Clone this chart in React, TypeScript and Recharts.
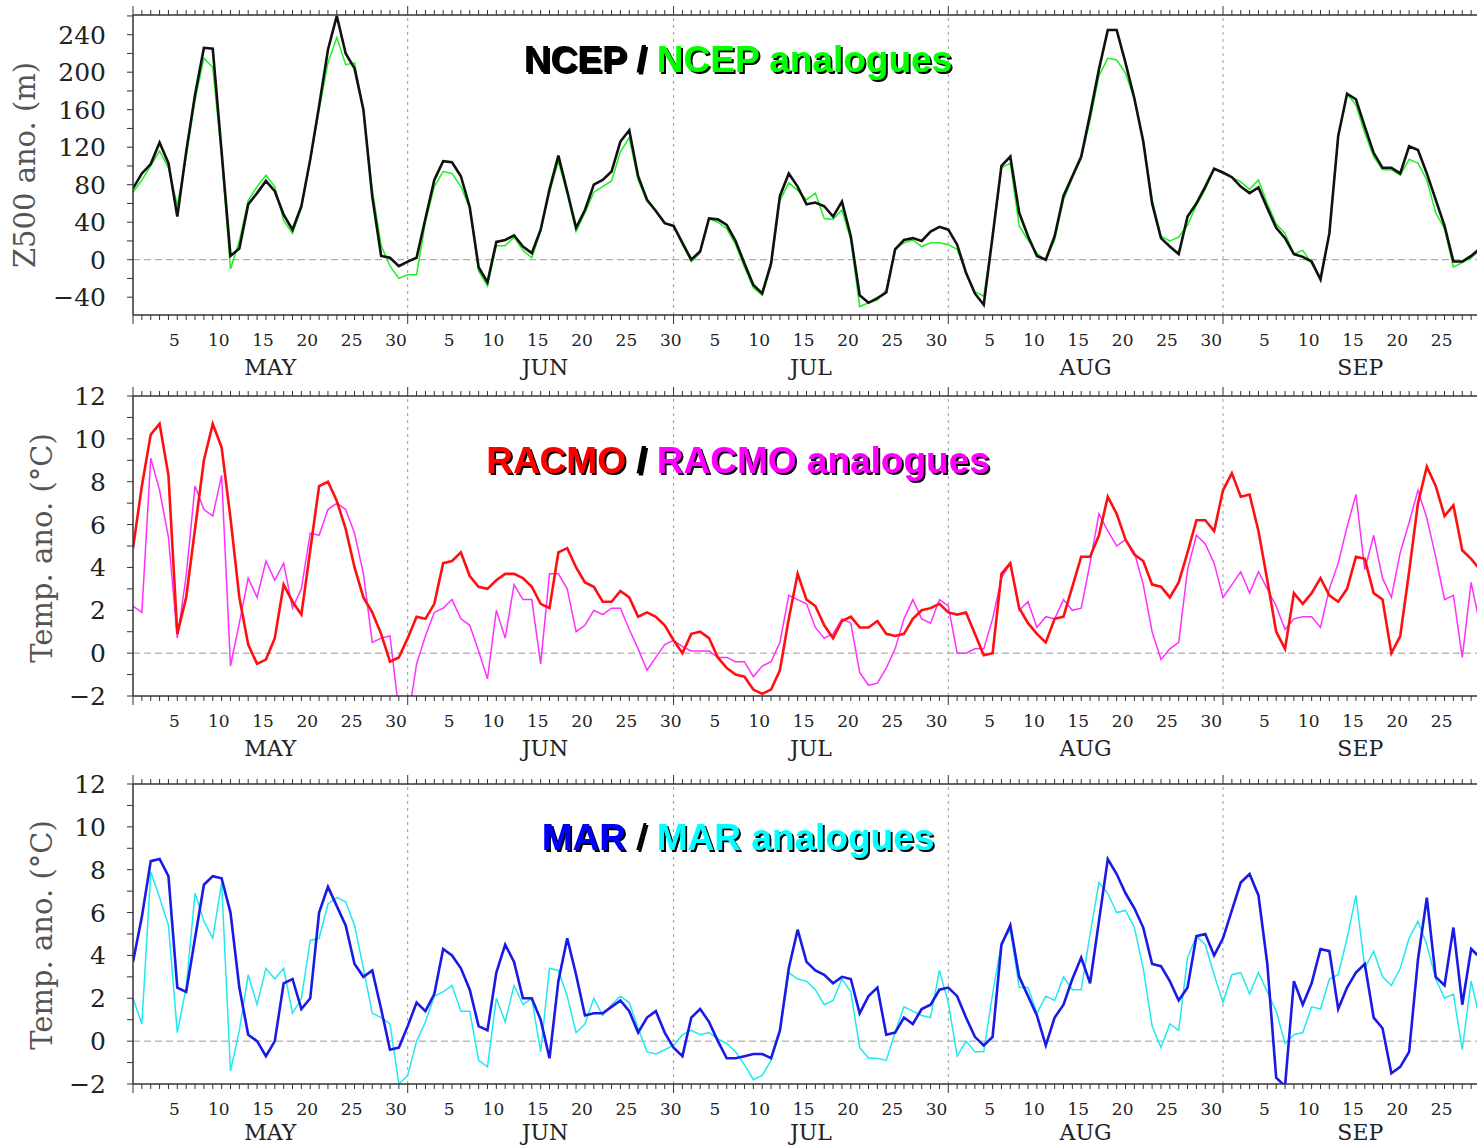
import React from 'react';
import { LineChart, Line, XAxis, YAxis, ReferenceLine } from 'recharts';

const MONTHS = ['MAY', 'JUN', 'JUL', 'AUG', 'SEP'];
const MONTH_START = [0, 31, 61, 92, 123];
const MONTH_BOUNDS = [31, 61, 92, 123];

const NCEP = [
  76, 92, 102, 125, 103, 46, 115, 176, 226, 225, 115, 4, 12, 59, 71, 84, 73, 48, 32, 57, 107, 164, 224, 260, 220, 204, 160, 67, 4, 2, -7,
  -2, 2, 44, 85, 105, 104, 89, 56, -8, -24, 19, 21, 26, 14, 7, 32, 75, 111, 73, 34, 53, 80, 85, 94, 126, 138, 89, 64, 52, 39,
  36, 18, 0, 9, 44, 43, 37, 20, -4, -27, -36, -4, 68, 92, 78, 59, 61, 57, 46, 62, 25, -38, -46, -41, -35, 11, 21, 23, 20, 30, 35,
  32, 16, -14, -36, -48, 25, 100, 110, 50, 25, 4, 0, 25, 68, 89, 110, 155, 203, 245, 245, 210, 172, 126, 60, 23, 14, 6, 46, 60, 78, 97,
  93, 88, 78, 71, 77, 55, 34, 23, 6, 3, -2, -21, 28, 132, 177, 171, 142, 114, 98, 98, 92, 121, 117, 92, 64, 36, -2, -2, 4, 12,
];
const NCEP_ANA = [
  72, 85, 100, 116, 98, 58, 110, 170, 215, 205, 110, -10, 20, 63, 78, 90, 78, 42, 28, 55, 105, 160, 210, 237, 208, 210, 160, 75, 15, -7, -20,
  -16, -16, 40, 78, 94, 92, 78, 55, -12, -28, 15, 15, 24, 10, 2, 30, 72, 105, 70, 30, 50, 72, 78, 84, 115, 130, 85, 62, 52, 39,
  36, 16, -2, 7, 44, 40, 33, 16, -8, -30, -38, -7, 63, 82, 74, 64, 71, 44, 43, 53, 21, -50, -46, -43, -32, 12, 18, 21, 14, 18, 18,
  16, 11, -14, -34, -39, 25, 98, 103, 36, 21, 7, -1, 21, 64, 87, 108, 149, 196, 215, 213, 199, 171, 128, 64, 25, 20, 24, 37, 58, 75, 97,
  92, 88, 83, 75, 85, 60, 38, 28, 6, 10, -4, -20, 28, 132, 177, 165, 135, 110, 96, 96, 90, 107, 103, 85, 50, 33, -8, -3, 2, 10,
];
const RACMO = [
  4.9, 7.8, 10.2, 10.7, 8.3, 0.9, 2.6, 5.8, 9.0, 10.7, 9.6, 6.3, 2.6, 0.4, -0.5, -0.3, 0.7, 3.2, 2.4, 1.8, 4.8, 7.8, 8.0, 7.1, 5.8, 4.0, 2.6, 1.9, 0.9, -0.4, -0.2,
  0.7, 1.7, 1.6, 2.3, 4.2, 4.3, 4.7, 3.6, 3.1, 3.0, 3.4, 3.7, 3.7, 3.5, 3.1, 2.3, 2.1, 4.7, 4.9, 4.0, 3.3, 3.1, 2.4, 2.4, 2.9, 2.6, 1.7, 1.9, 1.7, 1.3,
  0.6, 0.0, 0.9, 1.0, 0.7, -0.2, -0.7, -1.0, -1.1, -1.7, -1.9, -1.7, -0.8, 1.6, 3.7, 2.5, 2.2, 1.3, 0.7, 1.5, 1.7, 1.2, 1.2, 1.5, 0.9, 0.8, 0.9, 1.6, 2.0, 2.1, 2.3,
  1.9, 1.8, 1.9, 0.9, -0.1, 0.0, 3.7, 4.2, 2.1, 1.4, 0.9, 0.5, 1.6, 1.7, 3.1, 4.5, 4.5, 5.5, 7.3, 6.5, 5.3, 4.6, 4.3, 3.2, 3.1, 2.6, 3.3, 4.7, 6.2, 6.2, 5.7,
  7.6, 8.4, 7.3, 7.4, 5.7, 3.4, 1.0, 0.2, 2.8, 2.3, 2.8, 3.5, 2.7, 2.4, 3.0, 4.5, 4.4, 2.8, 2.5, 0.0, 0.8, 3.8, 7.0, 8.7, 7.8, 6.4, 6.9, 4.8, 4.4, 3.9,
];
const RACMO_ANA = [
  2.2, 1.9, 9.1, 7.6, 5.4, 0.7, 3.6, 7.8, 6.7, 6.4, 8.3, -0.6, 1.4, 3.5, 2.6, 4.3, 3.4, 4.2, 2.1, 3.0, 5.6, 5.5, 6.7, 7.0, 6.7, 5.6, 3.7, 0.5, 0.7, 0.8, -2.7,
  -3.2, -0.5, 0.8, 1.9, 2.1, 2.5, 1.6, 1.3, 0.1, -1.2, 2.0, 0.7, 3.2, 2.5, 2.5, -0.5, 3.7, 3.7, 3.0, 1.0, 1.3, 2.0, 1.8, 2.1, 2.1, 1.1, 0.2, -0.8, -0.2, 0.4,
  0.6, 0.3, 0.1, 0.1, 0.1, -0.2, -0.2, -0.4, -0.4, -1.1, -0.6, -0.4, 0.5, 2.7, 2.5, 2.3, 1.2, 0.7, 0.9, 1.6, 1.4, -0.9, -1.5, -1.4, -0.7, 0.2, 1.6, 2.5, 1.6, 1.4, 2.5,
  2.2, 0.0, 0.0, 0.2, 0.2, 1.6, 3.5, 4.2, 2.0, 2.4, 1.2, 1.7, 1.6, 2.5, 2.0, 2.1, 4.2, 6.5, 5.7, 5.0, 5.3, 4.7, 3.2, 1.0, -0.3, 0.2, 0.5, 3.9, 5.5, 5.1, 4.2,
  2.6, 3.2, 3.8, 2.8, 3.8, 3.0, 2.2, 1.1, 1.6, 1.7, 1.7, 1.2, 3.0, 4.2, 5.9, 7.4, 3.9, 5.5, 3.5, 2.6, 4.7, 6.1, 7.6, 6.3, 4.5, 2.5, 2.7, -0.2, 3.3, 1.3,
];
const MAR = [
  3.7, 5.8, 8.4, 8.5, 7.7, 2.5, 2.3, 4.8, 7.3, 7.7, 7.6, 6.0, 2.5, 0.3, 0.0, -0.7, 0.0, 2.7, 2.9, 1.5, 2.0, 6.0, 7.2, 6.3, 5.4, 3.6, 3.0, 3.3, 1.5, -0.4, -0.3,
  0.7, 1.8, 1.4, 2.2, 4.3, 4.0, 3.4, 2.4, 0.7, 0.5, 3.2, 4.5, 3.7, 2.0, 2.0, 1.0, -0.8, 2.8, 4.8, 3.1, 1.2, 1.3, 1.3, 1.6, 1.9, 1.4, 0.4, 1.1, 1.4, 0.4,
  -0.3, -0.7, 1.1, 1.5, 0.9, 0.0, -0.8, -0.8, -0.7, -0.6, -0.6, -0.8, 0.5, 3.4, 5.2, 3.7, 3.3, 3.1, 2.7, 3.0, 2.9, 1.3, 2.1, 2.5, 0.3, 0.4, 1.1, 0.8, 1.5, 1.7, 2.4,
  2.5, 2.1, 1.1, 0.2, -0.2, 0.2, 4.5, 5.4, 3.0, 2.1, 1.2, -0.2, 1.1, 1.7, 2.9, 3.9, 2.7, 5.6, 8.5, 7.8, 6.9, 6.2, 5.3, 3.6, 3.5, 2.8, 1.9, 2.5, 4.9, 5.0, 4.0,
  4.8, 6.1, 7.4, 7.8, 6.8, 3.6, -1.7, -2.1, 2.8, 1.7, 2.7, 4.3, 4.2, 1.5, 2.5, 3.2, 3.6, 1.1, 0.6, -1.5, -1.2, -0.5, 3.8, 6.7, 3.0, 2.6, 5.3, 1.7, 4.3, 3.9,
];
const MAR_ANA = [
  2.0, 0.8, 7.9, 6.7, 5.4, 0.4, 2.5, 6.9, 5.6, 4.8, 7.4, -1.4, 0.5, 3.1, 1.7, 3.4, 2.9, 3.4, 1.3, 2.0, 4.7, 4.8, 6.4, 6.7, 6.5, 5.4, 3.4, 1.3, 1.1, 0.8, -2.0,
  -1.6, 0.0, 0.9, 2.1, 2.3, 2.6, 1.4, 1.4, -0.9, -1.2, 2.0, 0.9, 2.6, 1.7, 2.0, -0.5, 3.4, 3.3, 2.1, 0.4, 0.8, 2.0, 1.2, 1.7, 2.1, 1.8, 0.6, -0.5, -0.6, -0.4,
  -0.2, 0.3, 0.5, 0.3, 0.4, 0.1, -0.1, -0.5, -1.1, -1.8, -1.6, -0.9, 0.4, 3.2, 2.9, 2.8, 2.4, 1.7, 1.9, 2.9, 2.3, -0.3, -0.8, -0.8, -0.9, 0.4, 1.6, 1.4, 1.2, 1.1, 3.3,
  1.8, -0.7, 0.0, -0.5, -0.5, 2.2, 4.6, 5.2, 2.5, 2.5, 1.3, 2.1, 1.9, 3.0, 2.4, 2.4, 5.0, 7.4, 6.9, 6.0, 6.1, 5.3, 3.4, 0.7, -0.3, 0.8, 0.5, 3.9, 4.9, 4.5, 3.1,
  1.8, 3.1, 3.2, 2.2, 3.2, 2.3, 1.4, -0.1, 0.3, 0.4, 1.6, 1.5, 2.9, 3.1, 4.8, 6.8, 3.4, 4.2, 3.0, 2.6, 3.4, 4.8, 5.6, 4.5, 2.9, 2.0, 2.2, -0.4, 2.8, 1.0,
];

const Z_TICKS = [-40, -20, 0, 20, 40, 60, 80, 100, 120, 140, 160, 180, 200, 220, 240, 260];
const T_TICKS = [-2, -1, 0, 1, 2, 3, 4, 5, 6, 7, 8, 9, 10, 11, 12];

const data = NCEP.map((v, i) => ({
  d: i,
  ncep: v,
  ncepA: NCEP_ANA[i],
  racmo: RACMO[i],
  racmoA: RACMO_ANA[i],
  mar: MAR[i],
  marA: MAR_ANA[i],
}));
const DAYS = data.map((r) => r.d);

const SERIF = "'DejaVu Serif', serif";
const AX = '#333';

function dayInfo(d: number) {
  let m = 0;
  for (let k = 0; k < MONTH_START.length; k++) if (d >= MONTH_START[k]) m = k;
  return { m, dom: d - MONTH_START[m] + 1 };
}

const makeBottomTick = (monthDy: number) => (props: any) => {
  const { x, y, payload } = props;
  const { m, dom } = dayInfo(payload.value);
  const major = dom === 1;
  const showDay = dom % 5 === 0 && x + 6 < 1462;
  return (
    <g>
      <line x1={x} y1={y} x2={x} y2={y + (major ? 9 : 5)} stroke={AX} strokeWidth={1} />
      {showDay && (
        <text x={x + 6} y={y + 31} textAnchor="middle" fontSize={17} fontFamily={SERIF} fill="#222">
          {dom}
        </text>
      )}
      {dom === 16 && (
        <text x={x + 4.4} y={y + monthDy} textAnchor="middle" fontSize={22} fontFamily={SERIF} fill="#222">
          {MONTHS[m]}
        </text>
      )}
    </g>
  );
};

const TopTick = (props: any) => {
  const { x, y, payload } = props;
  const { dom } = dayInfo(payload.value);
  const major = dom === 1;
  return <line x1={x} y1={y} x2={x} y2={y - (major ? 9 : 5)} stroke={AX} strokeWidth={1} />;
};

const makeLeftTick = (step: number) => (props: any) => {
  const { x, y, payload } = props;
  const v = payload.value as number;
  const show = Math.round(v / step) * step === v;
  const txt = v < 0 ? '\u2212' + Math.abs(v) : String(v);
  return (
    <g>
      <line x1={x - 6} y1={y} x2={x} y2={y} stroke={AX} strokeWidth={1} />
      {show && (
        <text x={x - 27} y={y + 9} textAnchor="end" fontSize={25} fontFamily={SERIF} fill="#222">
          {txt}
        </text>
      )}
    </g>
  );
};

type PanelProps = {
  top: number;
  height: number;
  topH: number;
  bottomH: number;
  monthDy: number;
  yDomain: [number, number];
  yTicks: number[];
  labelStep: number;
  mainKey: string;
  anaKey: string;
  mainColor: string;
  anaColor: string;
};

function Panel(p: PanelProps) {
  const LeftTick = makeLeftTick(p.labelStep);
  const BottomTick = makeBottomTick(p.monthDy);
  return (
    <div style={{ position: 'absolute', left: 0, top: p.top }}>
      <LineChart width={1477} height={p.height} data={data} margin={{ top: 0, right: -3, bottom: 0, left: 0 }}>
        <XAxis
          xAxisId="b"
          dataKey="d"
          type="number"
          domain={[0, 152]}
          ticks={DAYS}
          interval={0}
          orientation="bottom"
          height={p.bottomH}
          tickSize={0}
          tickMargin={0}
          tickLine={false}
          tick={(t: any) => <BottomTick {...t} />}
          axisLine={{ stroke: AX, strokeWidth: 1.5 }}
          allowDataOverflow
        />
        <XAxis
          xAxisId="t"
          dataKey="d"
          type="number"
          domain={[0, 152]}
          ticks={DAYS}
          interval={0}
          orientation="top"
          height={p.topH}
          tickSize={0}
          tickMargin={0}
          tickLine={false}
          tick={(t: any) => <TopTick {...t} />}
          axisLine={{ stroke: AX, strokeWidth: 1.5 }}
          allowDataOverflow
        />
        <YAxis
          yAxisId="l"
          type="number"
          domain={p.yDomain}
          ticks={p.yTicks}
          interval={0}
          width={133}
          tickSize={0}
          tickMargin={0}
          tickLine={false}
          tick={(t: any) => <LeftTick {...t} />}
          axisLine={{ stroke: AX, strokeWidth: 1.5 }}
          allowDataOverflow
        />
        <ReferenceLine xAxisId="b" yAxisId="l" y={0} stroke="#9a9a9a" strokeDasharray="7 4" strokeWidth={1} />
        {MONTH_BOUNDS.map((b) => (
          <ReferenceLine key={b} xAxisId="b" yAxisId="l" x={b} stroke="#9a9a9a" strokeDasharray="3 4" strokeWidth={1} />
        ))}
        <Line
          xAxisId="t"
          yAxisId="l"
          dataKey={p.anaKey}
          stroke={p.anaColor}
          strokeWidth={1.5}
          dot={false}
          activeDot={false}
          isAnimationActive={false}
        />
        <Line
          xAxisId="b"
          yAxisId="l"
          dataKey={p.mainKey}
          stroke={p.mainColor}
          strokeWidth={2.6}
          dot={false}
          activeDot={false}
          isAnimationActive={false}
        />
      </LineChart>
    </div>
  );
}

type Part = { text: string; color: string; bold?: boolean };

function Title({ x, y, parts }: { x: number; y: number; parts: Part[] }) {
  return (
    <text
      x={x}
      y={y}
      textAnchor="middle"
      fontSize={37}
      fontFamily="'Liberation Sans', Arial, sans-serif"
      filter="url(#shadow)"
      style={{ whiteSpace: 'pre' }}
    >
      {parts.map((pt, i) => (
        <tspan key={i} fill={pt.color} fontWeight={pt.bold === false ? 400 : 700}>
          {pt.text}
        </tspan>
      ))}
    </text>
  );
}

function YTitle({ x, y, text }: { x: number; y: number; text: string }) {
  return (
    <text
      x={x}
      y={y}
      textAnchor="middle"
      dominantBaseline="central"
      transform={`rotate(-90, ${x}, ${y})`}
      fontSize={29}
      fontFamily={SERIF}
      fill="#555"
    >
      {text}
    </text>
  );
}

export default function App() {
  return (
    <div style={{ position: 'absolute', left: 0, top: 0, width: 1477, height: 1147, background: '#fff', overflow: 'hidden' }}>
      <Panel
        top={0}
        height={383}
        topH={15}
        bottomH={68}
        monthDy={60}
        yDomain={[-59, 261]}
        yTicks={Z_TICKS}
        labelStep={40}
        mainKey="ncep"
        anaKey="ncepA"
        mainColor="#111111"
        anaColor="#1ff01f"
      />
      <Panel
        top={383}
        height={388}
        topH={13}
        bottomH={75}
        monthDy={60}
        yDomain={[-2, 12]}
        yTicks={T_TICKS}
        labelStep={2}
        mainKey="racmo"
        anaKey="racmoA"
        mainColor="#ff1010"
        anaColor="#ff30ff"
      />
      <Panel
        top={771}
        height={376}
        topH={13}
        bottomH={63}
        monthDy={56}
        yDomain={[-2, 12]}
        yTicks={T_TICKS}
        labelStep={2}
        mainKey="mar"
        anaKey="marA"
        mainColor="#1a1ae6"
        anaColor="#22e8f0"
      />
      <svg
        width={1477}
        height={1147}
        style={{ position: 'absolute', left: 0, top: 0, pointerEvents: 'none' }}
      >
        <defs>
          <filter id="shadow" x="-5%" y="-20%" width="110%" height="140%">
            <feDropShadow dx="2" dy="2" stdDeviation="0.3" floodColor="#000" floodOpacity="1" />
          </filter>
        </defs>
        <Title
          x={738}
          y={72}
          parts={[
            { text: 'NCEP', color: '#000' },
            { text: ' / ', color: '#000' },
            { text: 'NCEP analogues', color: '#00ff00' },
          ]}
        />
        <Title
          x={738}
          y={473}
          parts={[
            { text: 'RACMO', color: '#ff0000' },
            { text: ' / ', color: '#000' },
            { text: 'RACMO analogues', color: '#ff00ff' },
          ]}
        />
        <Title
          x={738}
          y={850}
          parts={[
            { text: 'MAR', color: '#0000ff' },
            { text: ' / ', color: '#000', bold: false },
            { text: 'MAR analogues', color: '#00ffff' },
          ]}
        />
        <YTitle x={25} y={165} text="Z500 ano. (m)" />
        <YTitle x={42} y={548} text="Temp. ano. (°C)" />
        <YTitle x={42} y={935} text="Temp. ano. (°C)" />
      </svg>
    </div>
  );
}
